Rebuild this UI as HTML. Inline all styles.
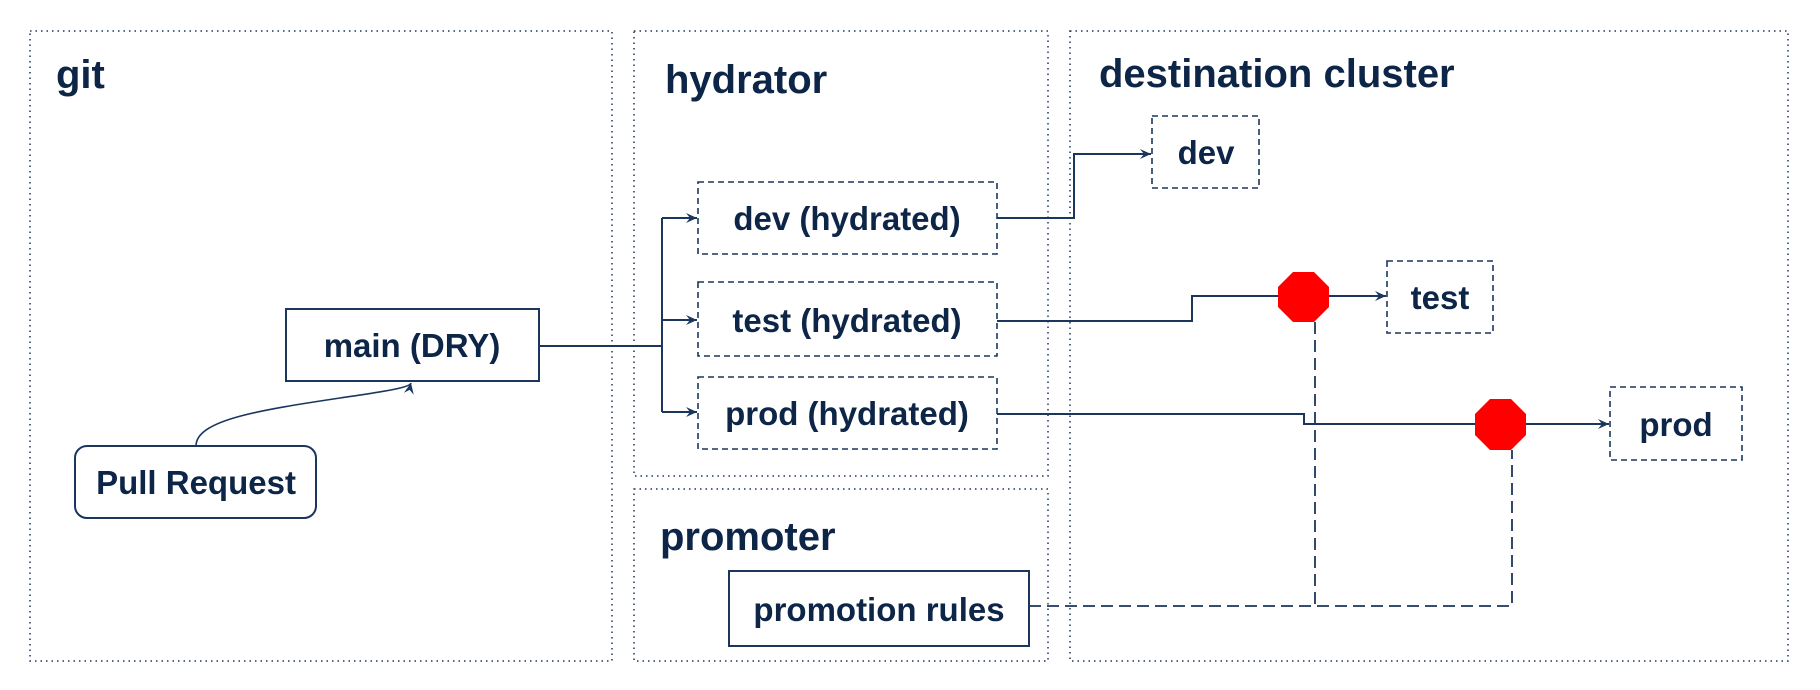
<!DOCTYPE html>
<html><head><meta charset="utf-8"><style>
html,body{margin:0;padding:0;background:#fff;width:1820px;height:690px;overflow:hidden}
text{font-family:"Liberation Sans",sans-serif;font-weight:bold;fill:#0d2547}
</style></head><body>
<svg width="1820" height="690" viewBox="0 0 1820 690" xmlns="http://www.w3.org/2000/svg">
<defs>
<marker id="a" markerWidth="12" markerHeight="12" refX="11" refY="6" orient="auto" markerUnits="userSpaceOnUse">
<path d="M0,1 L11,6 L0,11 L4,6 Z" fill="#1b365d"/>
</marker>
</defs>
<g fill="none" stroke="#1b365d" stroke-width="1.5" stroke-dasharray="1.5,4">
<rect x="30" y="31" width="582" height="630"/>
<rect x="634" y="31" width="414" height="445"/>
<rect x="634" y="489" width="414" height="172"/>
<rect x="1070" y="31" width="718" height="630"/>
</g>
<text x="56" y="88" font-size="40">git</text>
<text x="665" y="93" font-size="40">hydrator</text>
<text x="660" y="550" font-size="40">promoter</text>
<text x="1099" y="87" font-size="40">destination cluster</text>

<g fill="#fff" stroke="#1b365d" stroke-width="2">
<rect x="286" y="309" width="253" height="72"/>
<rect x="75" y="446" width="241" height="72" rx="12"/>
<rect x="729" y="571" width="300" height="75"/>
</g>
<g fill="#fff" stroke="#1b365d" stroke-width="1.6" stroke-dasharray="6,4">
<rect x="698" y="182" width="299" height="72"/>
<rect x="698" y="282" width="299" height="74"/>
<rect x="698" y="377" width="299" height="72"/>
<rect x="1152" y="116" width="107" height="72"/>
<rect x="1387" y="261" width="106" height="72"/>
<rect x="1610" y="387" width="132" height="73"/>
</g>
<g font-size="33" text-anchor="middle">
<text x="412" y="357">main (DRY)</text>
<text x="196" y="494">Pull Request</text>
<text x="879" y="621">promotion rules</text>
<text x="847" y="230">dev (hydrated)</text>
<text x="847" y="332">test (hydrated)</text>
<text x="847" y="425">prod (hydrated)</text>
<text x="1206" y="164">dev</text>
<text x="1440" y="309">test</text>
<text x="1676" y="436">prod</text>
</g>

<g fill="none" stroke="#1b365d" stroke-width="2">
<path d="M539,346 H662"/>
<path d="M662,218 V412"/>
<path d="M662,218 H697" marker-end="url(#a)"/>
<path d="M662,320 H697" marker-end="url(#a)"/>
<path d="M662,412 H697" marker-end="url(#a)"/>
<path d="M997,218 H1074 V154 H1151" marker-end="url(#a)"/>
<path d="M997,321 H1192 V296 H1280"/>
<path d="M1329,296 H1386" marker-end="url(#a)"/>
<path d="M997,414 H1304 V424 H1476"/>
<path d="M1526,424 H1609" marker-end="url(#a)"/>
<path d="M196,446 C196,420 260,410 340,398 C380,392 410,388 411,383" stroke-width="1.6" marker-end="url(#a)"/>
</g>
<g fill="none" stroke="#1b365d" stroke-width="1.8" stroke-dasharray="12,6">
<path d="M1029,606 H1512 V450"/>
<path d="M1315,322 V606"/>
</g>
<g fill="#ff0000">
<polygon points="1293,272 1314,272 1329,287 1329,307 1314,322 1293,322 1278,307 1278,287"/>
<polygon points="1490,399 1511,399 1526,414 1526,435 1511,450 1490,450 1475,435 1475,414"/>
</g>
</svg>
</body></html>
